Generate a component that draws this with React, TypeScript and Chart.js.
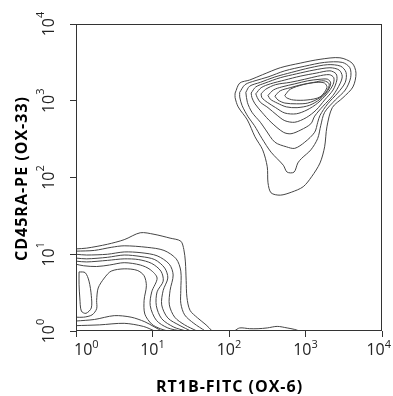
import { useEffect, useRef } from 'react';
import { Chart, registerables } from 'chart.js';

Chart.register(...registerables);

const X_TITLE = 'RT1B-FITC (OX-6)';
const Y_TITLE = 'CD45RA-PE (OX-33)';
const TICK_EXPONENTS = [0, 1, 2, 3, 4];
const AXIS_MIN = 1;
const AXIS_MAX = 10000;

// Contour lines, each point is [log10(x), log10(y)]
// Upper-right population (closed contours, outer -> inner)
const UPPER_1 = [[2.08,3.10],[2.14,3.23],[2.27,3.27],[2.44,3.34],[2.67,3.43],[2.93,3.49],[3.19,3.54],[3.45,3.56],[3.61,3.49],[3.66,3.36],[3.62,3.18],[3.49,3.04],[3.35,2.91],[3.28,2.66],[3.25,2.40],[3.19,2.19],[3.08,2.01],[2.97,1.88],[2.82,1.81],[2.67,1.77],[2.55,1.80],[2.51,1.93],[2.50,2.14],[2.44,2.36],[2.34,2.53],[2.24,2.75],[2.12,2.92],[2.08,3.04]];
const UPPER_2 = [[2.14,3.11],[2.21,3.21],[2.34,3.26],[2.51,3.31],[2.73,3.39],[2.99,3.45],[3.25,3.50],[3.48,3.50],[3.58,3.43],[3.59,3.30],[3.52,3.14],[3.39,3.01],[3.25,2.85],[3.20,2.68],[3.16,2.51],[3.07,2.36],[2.95,2.25],[2.90,2.19],[2.85,2.07],[2.76,2.07],[2.71,2.16],[2.55,2.33],[2.43,2.51],[2.33,2.68],[2.25,2.79],[2.17,2.94],[2.14,3.05]];
const UPPER_3 = [[2.22,3.11],[2.27,3.19],[2.41,3.24],[2.60,3.31],[2.82,3.37],[3.06,3.43],[3.29,3.47],[3.46,3.45],[3.53,3.37],[3.52,3.24],[3.42,3.10],[3.29,2.96],[3.19,2.81],[3.16,2.72],[3.12,2.59],[2.99,2.46],[2.86,2.38],[2.75,2.40],[2.60,2.46],[2.48,2.62],[2.41,2.72],[2.30,2.85],[2.24,2.98]];
const UPPER_4 = [[2.29,3.10],[2.35,3.18],[2.47,3.23],[2.67,3.30],[2.88,3.35],[3.11,3.40],[3.32,3.43],[3.44,3.40],[3.48,3.32],[3.45,3.22],[3.36,3.07],[3.23,2.93],[3.12,2.80],[3.07,2.70],[2.94,2.62],[2.81,2.57],[2.71,2.59],[2.55,2.72],[2.43,2.85],[2.34,2.96],[2.30,3.04]];
const UPPER_5 = [[2.35,3.09],[2.42,3.17],[2.54,3.22],[2.73,3.27],[2.93,3.32],[3.14,3.36],[3.32,3.39],[3.40,3.35],[3.41,3.27],[3.36,3.14],[3.25,3.01],[3.14,2.88],[3.01,2.78],[2.86,2.72],[2.73,2.74],[2.63,2.81],[2.51,2.91],[2.41,2.98],[2.37,3.04]];
const UPPER_6 = [[2.42,3.09],[2.48,3.15],[2.61,3.21],[2.80,3.24],[2.99,3.28],[3.16,3.32],[3.31,3.34],[3.37,3.30],[3.36,3.21],[3.28,3.09],[3.16,2.97],[3.02,2.88],[2.88,2.83],[2.73,2.84],[2.61,2.91],[2.50,2.98],[2.43,3.04]];
const UPPER_7 = [[2.51,3.07],[2.58,3.14],[2.69,3.18],[2.86,3.22],[3.03,3.26],[3.19,3.28],[3.29,3.28],[3.33,3.23],[3.29,3.13],[3.19,3.02],[3.05,2.94],[2.89,2.91],[2.75,2.92],[2.63,2.97],[2.54,3.02]];
const UPPER_8 = [[2.60,3.06],[2.67,3.13],[2.80,3.17],[2.95,3.21],[3.11,3.24],[3.24,3.26],[3.31,3.22],[3.28,3.13],[3.19,3.04],[3.03,2.97],[2.88,2.96],[2.73,2.97],[2.64,3.01]];
const UPPER_9 = [[2.73,3.07],[2.80,3.15],[2.97,3.21],[3.15,3.24],[3.25,3.23],[3.28,3.17],[3.19,3.05],[3.02,3.01],[2.84,3.01],[2.75,3.04]];

// Lower-left population (lines running from the left axis round to the bottom axis)
const LOWER_1 = [[0,1.07],[0.14,1.08],[0.41,1.13],[0.63,1.19],[0.84,1.28],[1.02,1.26],[1.23,1.21],[1.37,1.17],[1.41,1.06],[1.43,0.90],[1.44,0.66],[1.45,0.44],[1.49,0.27],[1.59,0.17],[1.70,0.08],[1.78,0]];
const LOWER_2 = [[0,1.04],[0.24,1.05],[0.46,1.09],[0.63,1.11],[0.93,1.09],[1.15,1.05],[1.31,0.94],[1.37,0.78],[1.37,0.53],[1.37,0.36],[1.42,0.21],[1.54,0.10],[1.69,0]];
const LOWER_3 = [[0,1.00],[0.14,0.99],[0.41,1.00],[0.63,1.03],[0.85,1.02],[1.06,0.98],[1.22,0.87],[1.27,0.73],[1.23,0.53],[1.22,0.34],[1.29,0.18],[1.42,0.08],[1.58,0]];
const LOWER_4 = [[0,0.95],[0.14,0.94],[0.41,0.96],[0.63,0.99],[0.85,0.97],[1.03,0.93],[1.16,0.82],[1.20,0.69],[1.14,0.53],[1.12,0.34],[1.20,0.17],[1.36,0.07],[1.50,0]];
const LOWER_5 = [[0,0.91],[0.14,0.90],[0.41,0.92],[0.63,0.94],[0.82,0.93],[0.99,0.88],[1.11,0.78],[1.14,0.65],[1.06,0.51],[1.05,0.33],[1.12,0.16],[1.28,0.05],[1.44,0]];
const LOWER_6 = [[0,0.87],[0.10,0.85],[0.27,0.84],[0.44,0.86],[0.63,0.89],[0.84,0.86],[0.97,0.80],[1.06,0.69],[0.99,0.51],[0.97,0.33],[1.05,0.14],[1.20,0.04],[1.37,0]];
const LOWER_7 = [[0,0.18],[0.10,0.18],[0.21,0.21],[0.27,0.29],[0.27,0.40],[0.29,0.56],[0.37,0.69],[0.46,0.78],[0.63,0.81],[0.80,0.79],[0.89,0.72],[0.92,0.59],[0.89,0.40],[0.90,0.22],[0.99,0.09],[1.10,0.03],[1.20,0]];
const LOWER_8 = [[0,0.13],[0.24,0.15],[0.50,0.20],[0.72,0.18],[0.90,0.12],[1.03,0.05],[1.12,0]];
const LOWER_9 = [[0,0.07],[0.31,0.08],[0.63,0.10],[0.88,0.06],[1.03,0]];
const LOWER_LOOP = [[0.04,0.77],[0.12,0.76],[0.17,0.65],[0.20,0.46],[0.20,0.30],[0.13,0.23],[0.07,0.26],[0.05,0.43],[0.04,0.61]];
// Small ridge on the bottom axis
const BOTTOM_RIDGE = [[2.07,0],[2.14,0.04],[2.27,0.03],[2.38,0.03],[2.50,0.04],[2.63,0.06],[2.76,0.04],[2.86,0.02],[2.92,0]];

const CLOSED_CONTOURS = [UPPER_1, UPPER_2, UPPER_3, UPPER_4, UPPER_5, UPPER_6, UPPER_7, UPPER_8, UPPER_9, LOWER_LOOP];
const OPEN_CONTOURS = [LOWER_1, LOWER_2, LOWER_3, LOWER_4, LOWER_5, LOWER_6, LOWER_7, LOWER_8, LOWER_9, BOTTOM_RIDGE];

const FONT = '"Open Sans", "Noto Sans", sans-serif';
const LINE_COLOR = '#454545';
const AXIS_COLOR = '#333';
const TEXT_COLOR = '#222';

const toPoints = (c: number[][]) => c.map(([a, b]) => ({ x: Math.pow(10, a), y: Math.pow(10, b) }));

const decorPlugin = {
  id: 'decor',
  afterDraw(chart: any) {
    const ctx = chart.ctx as CanvasRenderingContext2D;
    const area = chart.chartArea;
    const xs = chart.scales.x;
    const ys = chart.scales.y;
    ctx.save();
    // frame
    ctx.strokeStyle = AXIS_COLOR;
    ctx.lineWidth = 1;
    const l = Math.round(area.left) + 0.5;
    const t = Math.round(area.top) + 0.5;
    const r = Math.round(area.right) - 0.5;
    const b = Math.round(area.bottom) - 0.5;
    ctx.strokeRect(l, t, r - l, b - t);

    ctx.fillStyle = TEXT_COLOR;
    ctx.textAlign = 'left';
    ctx.textBaseline = 'alphabetic';
    TICK_EXPONENTS.forEach((e) => {
      const base = '10';
      const sup = String(e);
      ctx.font = `16px ${FONT}`;
      const wb = ctx.measureText(base).width;
      ctx.font = `11px ${FONT}`;
      const ws = ctx.measureText(sup).width;
      const w = wb + ws;
      // x axis label
      const px = xs.getPixelForValue(Math.pow(10, e));
      let left = px - w / 2;
      left = Math.max(left, area.left - 2);
      left = Math.min(left, chart.width - 2 - w);
      ctx.font = `16px ${FONT}`;
      ctx.fillText(base, left, area.bottom + 24);
      ctx.font = `11px ${FONT}`;
      ctx.fillText(sup, left + wb, area.bottom + 17);
      // y axis label (rotated)
      const py = ys.getPixelForValue(Math.pow(10, e));
      ctx.save();
      ctx.translate(area.left - 22, py);
      ctx.rotate(-Math.PI / 2);
      ctx.font = `16px ${FONT}`;
      ctx.fillText(base, -w / 2, 0);
      ctx.font = `11px ${FONT}`;
      ctx.fillText(sup, -w / 2 + wb, -10);
      ctx.restore();
    });

    // axis titles
    ctx.fillStyle = '#000';
    ctx.font = `bold 16px ${FONT}`;
    (ctx as any).letterSpacing = '1px';
    ctx.textAlign = 'center';
    ctx.fillText(X_TITLE, (area.left + area.right) / 2 + 0.5, area.bottom + 61);
    ctx.save();
    ctx.translate(27, (area.top + area.bottom) / 2 + 1.5);
    ctx.rotate(-Math.PI / 2);
    ctx.fillText(Y_TITLE, 0.5, 0);
    ctx.restore();
    ctx.restore();
  },
};

export default function App() {
  const ref = useRef<HTMLCanvasElement>(null);
  useEffect(() => {
    if (!ref.current) return;
    const datasets: any[] = [];
    CLOSED_CONTOURS.forEach((c) => {
      datasets.push({ data: toPoints([...c, c[0]]), showLine: true });
    });
    OPEN_CONTOURS.forEach((c) => {
      datasets.push({ data: toPoints(c), showLine: true });
    });
    datasets.forEach((d) => {
      d.borderColor = LINE_COLOR;
      d.borderWidth = 1;
      d.pointRadius = 0;
      d.pointHoverRadius = 0;
      d.fill = false;
      d.tension = 0.3;
    });
    const tickFn = (s: any) => {
      s.ticks = TICK_EXPONENTS.map((e) => ({ value: Math.pow(10, e) }));
    };
    const chart = new Chart(ref.current, {
      type: 'scatter',
      data: { datasets },
      options: {
        animation: false,
        responsive: false,
        events: [],
        layout: { padding: { top: 24, right: 11, left: 0, bottom: 0 } },
        plugins: { legend: { display: false }, tooltip: { enabled: false }, title: { display: false } },
        scales: {
          x: {
            type: 'logarithmic',
            position: 'bottom',
            min: AXIS_MIN,
            max: AXIS_MAX,
            afterBuildTicks: tickFn,
            afterFit: (s: any) => { s.height = 65; },
            ticks: { display: false },
            grid: { drawOnChartArea: false, drawTicks: true, tickLength: 6, color: AXIS_COLOR, lineWidth: 1 },
            border: { display: false },
          },
          y: {
            type: 'logarithmic',
            position: 'left',
            min: AXIS_MIN,
            max: AXIS_MAX,
            afterBuildTicks: tickFn,
            afterFit: (s: any) => { s.width = 76; },
            ticks: { display: false },
            grid: { drawOnChartArea: false, drawTicks: true, tickLength: 6, color: AXIS_COLOR, lineWidth: 1 },
            border: { display: false },
          },
        },
      } as any,
      plugins: [decorPlugin],
    });
    return () => chart.destroy();
  }, []);
  return (
    <div style={{ position: 'absolute', left: 0, top: 0, width: 393, height: 396, background: '#fff' }}>
      <canvas ref={ref} width={393} height={396} style={{ display: 'block' }} />
    </div>
  );
}
